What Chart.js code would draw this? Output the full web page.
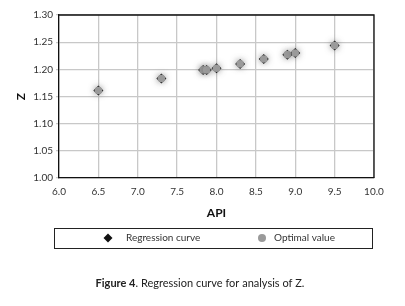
<!DOCTYPE html>
<html><head><meta charset="utf-8">
<script src="https://cdn.jsdelivr.net/npm/chart.js@4.4.0/dist/chart.umd.min.js"></script>
<style>html,body{margin:0;padding:0;background:#fff;}#wrap{width:405px;height:306px;position:relative;}</style>
</head><body><div id="wrap"><canvas id="c" width="405" height="306"></canvas></div>
<script>
const apiValues = [6.5, 7.3, 7.83, 7.875, 8.0, 8.3, 8.6, 8.9, 9.0, 9.5];
const regressionZ = [1.161, 1.183, 1.199, 1.199, 1.202, 1.210, 1.219, 1.227, 1.230, 1.244];
const optimalZ = [1.161, 1.183, 1.199, 1.199, 1.202, 1.210, 1.219, 1.227, 1.230, 1.244];
const seriesNames = ['Regression curve', 'Optimal value'];
const xTitle = 'API';
const yTitle = 'Z';
const caption = ['Figure 4', '. Regression curve for analysis of Z.'];

const FONT = 'Lato';
const TXT = '#333';

const toPts = (xs, ys) => xs.map((x, i) => ({x, y: ys[i]}));

const shadowPlugin = {
  id: 'glow',
  beforeDatasetDraw(chart, args) {
    if (args.index === 1) {
      const ctx = chart.ctx;
      ctx.save();
      ctx.shadowColor = 'rgba(80,80,80,0.7)';
      ctx.shadowBlur = 6;
    }
  },
  afterDatasetDraw(chart, args) {
    if (args.index === 1) chart.ctx.restore();
  }
};

const extrasPlugin = {
  id: 'extras',
  afterDraw(chart) {
    const ctx = chart.ctx;
    ctx.save();
    ctx.strokeStyle = '#222';
    ctx.lineWidth = 1;
    ctx.strokeRect(54.5, 228.5, 318, 20);
    ctx.fillStyle = '#111';
    ctx.beginPath();
    ctx.moveTo(108, 233.5); ctx.lineTo(112.5, 238); ctx.lineTo(108, 242.5); ctx.lineTo(103.5, 238); ctx.closePath();
    ctx.fill();
    ctx.fillStyle = '#9a9a9a';
    ctx.beginPath(); ctx.arc(262, 238, 4, 0, Math.PI * 2); ctx.fill();
    ctx.fillStyle = TXT;
    ctx.font = '10px ' + FONT;
    ctx.textBaseline = 'middle';
    ctx.textAlign = 'left';
    ctx.fillText(seriesNames[0], 126, 238);
    ctx.fillText(seriesNames[1], 274, 238);
    ctx.font = 'bold 11px ' + FONT;
    const w1 = ctx.measureText(caption[0]).width;
    ctx.font = '11px ' + FONT;
    const w2 = ctx.measureText(caption[1]).width;
    let x0 = 200 - (w1 + w2) / 2;
    ctx.fillStyle = '#222';
    ctx.font = 'bold 11px ' + FONT;
    ctx.fillText(caption[0], x0, 283);
    ctx.font = '11px ' + FONT;
    ctx.fillText(caption[1], x0 + w1, 283);
    ctx.restore();
  }
};

new Chart(document.getElementById('c'), {
  type: 'scatter',
  data: {
    datasets: [
      {
        label: seriesNames[0],
        data: toPts(apiValues, regressionZ),
        pointStyle: 'rectRot',
        pointRadius: 5,
        backgroundColor: '#111',
        borderColor: '#111',
        borderWidth: 0,
        order: 2
      },
      {
        label: seriesNames[1],
        data: toPts(apiValues, optimalZ),
        pointStyle: 'circle',
        pointRadius: 3.8,
        backgroundColor: '#9a9a9a',
        borderColor: '#9a9a9a',
        borderWidth: 0,
        order: 1
      }
    ]
  },
  options: {
    responsive: false,
    animation: false,
    devicePixelRatio: 1,
    layout: {padding: {left: 0, top: 15, right: 31, bottom: 0}},
    plugins: {legend: {display: false}, tooltip: {enabled: false}},
    scales: {
      x: {
        type: 'linear', min: 6, max: 10,
        afterFit(s) { s.height = 128; },
        ticks: {stepSize: 0.5, callback: v => v.toFixed(1), color: TXT, font: {family: FONT, size: 10}, padding: 8, maxRotation: 0},
        grid: {color: '#c8c8c8', lineWidth: 1.3, tickLength: 4, drawTicks: false},
        border: {color: '#111', width: 1.3},
        title: {display: true, text: xTitle, color: '#111', font: {family: FONT, size: 12, weight: 'bold'}, padding: {top: 0, bottom: 86}}
      },
      y: {
        type: 'linear', min: 1.0, max: 1.3,
        afterFit(s) { s.width = 59; },
        ticks: {stepSize: 0.05, callback: v => v.toFixed(2), color: TXT, font: {family: FONT, size: 10}, padding: 3},
        grid: {color: '#c8c8c8', lineWidth: 1.3, tickLength: 3},
        border: {color: '#111', width: 1.3},
        title: {display: true, text: yTitle, color: '#111', font: {family: FONT, size: 12, weight: 'bold'}, padding: {top: 14, bottom: 0}}
      }
    }
  },
  plugins: [shadowPlugin, extrasPlugin, {
    id: 'frame',
    afterDatasetsDraw(chart) {
      const {ctx, chartArea: a} = chart;
      ctx.save();
      ctx.strokeStyle = '#111';
      ctx.lineWidth = 1.3;
      ctx.beginPath();
      ctx.moveTo(a.left, a.top); ctx.lineTo(a.right, a.top); ctx.lineTo(a.right, a.bottom);
      ctx.stroke();
      ctx.restore();
    }
  }]
});
</script></body></html>
